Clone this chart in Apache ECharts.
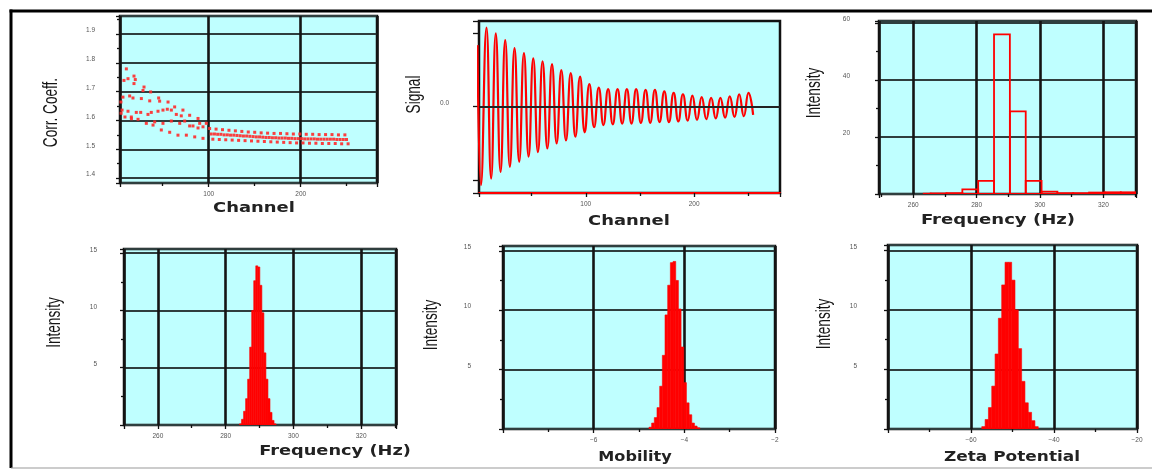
<!DOCTYPE html>
<html><head><meta charset="utf-8">
<script src="https://cdn.jsdelivr.net/npm/echarts@6/dist/echarts.min.js"></script>
<style>html,body{margin:0;padding:0;background:#fff}#c{width:1152px;height:470px}</style>
</head><body><div id="c"></div>
<script>
// ---------------- data ----------------
// Panel 1: correlation coefficient vs channel (dots)
const corrChannel = [10.5,7.9,12.3,18.8,20.2,18.8,28.6,36.9,29.7,6.8,14.1,17.7,26.8,35.9,45.6,46.7,55.8,63.0,72.0,79.3,88.4,97.4,
  5.8,12.3,15.9,21.3,26.1,34.0,37.6,44.9,50.3,55.0,59.4,64.8,70.2,73.9,82.9,90.2,93.8,
  23.2,32.2,39.5,48.5,57.6,66.6,75.7,84.8,93.8,41.3,50.3,59.4,68.5,79.3,88.4,4.6,9.0,16.0,4.8,
  101,102.75,104.5,106.25,108,109.75,111.5,113.25,115,116.75,118.5,120.25,122,123.75,125.5,127.25,
  129,130.75,132.5,134.25,136,137.75,139.5,141.25,143,144.75,146.5,148.25,150,151.75,153.5,155.25,
  157,158.75,160.5,162.25,164,165.75,167.5,169.25,171,172.75,174.5,176.25,178,179.75,181.5,183.25,
  185,186.75,188.5,190.25,192,193.75,195.5,197.25,199,200.75,202.5,204.25,206,207.75,209.5,211.25,
  213,214.75,216.5,218.25,220,221.75,223.5,225.25,227,228.75,230.5,232.25,234,235.75,237.5,239.25,
  241,242.75,244.5,246.25,248,249.75,251.5];
const corrValue = [1.779,1.739,1.745,1.754,1.742,1.728,1.704,1.699,1.716,1.681,1.685,1.678,1.676,1.668,1.678,1.667,1.664,1.647,1.636,1.618,1.607,1.590,
  1.636,1.632,1.612,1.628,1.628,1.621,1.628,1.632,1.636,1.639,1.636,1.621,1.616,1.598,1.581,1.590,1.578,
  1.604,1.590,1.584,1.567,1.559,1.549,1.549,1.543,1.538,1.595,1.590,1.598,1.590,1.581,1.574,1.664,1.612,1.606,1.625,
  1.572,1.553,1.535,1.553,1.570,1.552,1.534,1.552,1.568,1.550,1.533,1.550,1.566,1.549,1.532,1.549,
  1.564,1.548,1.531,1.547,1.562,1.546,1.530,1.546,1.560,1.545,1.529,1.544,1.559,1.543,1.528,1.543,
  1.557,1.542,1.527,1.541,1.556,1.541,1.526,1.540,1.555,1.540,1.525,1.539,1.555,1.539,1.524,1.539,
  1.554,1.538,1.523,1.538,1.553,1.537,1.522,1.537,1.553,1.537,1.522,1.536,1.552,1.536,1.521,1.536,
  1.552,1.536,1.521,1.535,1.551,1.535,1.520,1.535,1.551,1.535,1.520,1.535,1.551,1.535,1.520,1.534,
  1.550,1.534,1.519,1.534,1.550,1.534,1.519];

// Panel 2: signal vs channel (peaks and troughs of the trace)
const signalChannel = [0,3.2,8.3,12.6,16.9,21.3,25.6,29.9,34.2,38.5,42.9,47.2,51.5,55.8,60.1,64.5,68.8,73.1,77.4,81.7,86.1,90.4,94.7,
  99.0,103.3,107.7,112.0,116.3,120.6,124.9,129.3,133.6,137.9,142.2,146.5,150.9,155.2,159.5,163.8,168.1,172.5,176.8,181.1,185.4,
  189.7,194.1,198.4,202.7,207.0,211.3,215.7,220.0,224.3,228.6,232.9,237.3,241.6,245.9,250.2,254.5];
const signalValue = [0.84,-1.07,1.08,-0.98,1.00,-0.89,0.91,-0.82,0.80,-0.75,0.73,-0.68,0.66,-0.62,0.62,-0.57,0.58,-0.50,0.50,-0.46,0.46,-0.41,0.41,
  -0.35,0.31,-0.28,0.26,-0.25,0.24,-0.24,0.24,-0.23,0.24,-0.23,0.24,-0.22,0.23,-0.22,0.23,-0.21,0.21,-0.21,0.19,-0.20,
  0.17,-0.19,0.15,-0.18,0.13,-0.17,0.12,-0.16,0.12,-0.15,0.14,-0.14,0.17,-0.13,0.19,-0.11];

// Panel 3: coarse frequency histogram (bin edges, intensity)
const coarseFreqEdges = [263.3,265.5,270.5,275.5,280.5,285.5,290.5,295.5,300.5,305.5,310.5,315.5,320.5,325.5,330.3];
const coarseFreqIntensity = [0.1,0.2,0.3,1.6,4.6,56,29,4.6,0.8,0.3,0.3,0.5,0.6,0.6];

// Panel 4: frequency distribution
const freqEdges = [284.1,284.7,285.3,285.9,286.5,287.1,287.7,288.3,288.9,289.5,290.1,290.7,291.3,291.9,292.5,293.1,293.7,294.3,294.9];
const freqIntensity = [0.1,0.5,1.2,2.3,4.0,6.8,10.0,12.6,13.9,13.8,12.2,9.8,6.3,4.0,2.3,1.1,0.4,0.1];

// Panel 5: mobility distribution
const mobilityEdges = [-4.78,-4.721,-4.662,-4.603,-4.544,-4.485,-4.426,-4.367,-4.308,-4.249,-4.19,-4.131,-4.072,-4.013,-3.954,-3.895,-3.836,-3.777,-3.718,-3.659];
const mobilityIntensity = [0.15,0.5,0.96,1.8,3.6,6.2,9.6,12.1,14.0,14.1,12.5,10.1,6.9,3.9,2.2,1.2,0.5,0.25,0.1];

// Panel 6: zeta potential distribution
const zetaEdges = [-57.4,-56.6,-55.8,-55.0,-54.2,-53.4,-52.6,-51.8,-51.0,-50.2,-49.4,-48.6,-47.8,-47.0,-46.2,-45.4,-44.6,-43.8];
const zetaIntensity = [0.2,0.8,1.8,3.6,6.3,9.3,12.1,14.0,14.0,12.5,10.0,6.75,4.0,2.2,1.4,0.7,0.2];

// Tick labels
const channelTicks = [100,200], channelLabels = ['100','200'];
const corrTicks = [1.4,1.5,1.6,1.7,1.8,1.9], corrLabels = ['1.4','1.5','1.6','1.7','1.8','1.9'];
const signalTicks = [0], signalLabels = ['0.0'];
const freqTicks = [260,280,300,320], freqLabels = ['260','280','300','320'];
const int60Ticks = [20,40,60], int60Labels = ['20','40','60'];
const int15Ticks = [5,10,15], int15Labels = ['5','10','15'];
const mobilityTicks = [-6,-4,-2], mobilityLabels = ['\u22126','\u22124','\u22122'];
const zetaTicks = [-60,-40,-20], zetaLabels = ['\u221260','\u221240','\u221220'];

// ---------------- layout & styling ----------------
const CYAN = '#bfffff', RED = '#ff0000';
const panels = [
  {grid:{left:120,top:16,width:257,height:167},
   x:{min:3.6,max:282.9,step:100,ticks:channelTicks,labels:channelLabels,split:true},
   y:{min:1.383,max:1.9625,step:0.1,ticks:corrTicks,labels:corrLabels,split:true,margin:25,minor:true}},
  {grid:{left:479,top:21,width:301,height:172},
   x:{min:1.4,max:279.3,step:100,ticks:channelTicks,labels:channelLabels,split:false,line:RED},
   y:{min:-1.177,max:1.169,step:1,ticks:signalTicks,labels:signalLabels,split:false,margin:30,minor:false,tickLen:6}},
  {grid:{left:879,top:21,width:257,height:173},
   x:{min:249.2,max:330.3,step:20,ticks:freqTicks,labels:freqLabels,split:true},
   y:{min:0,max:60.7,step:20,ticks:int60Ticks,labels:int60Labels,split:true,margin:29,minor:true}},
  {grid:{left:124,top:249,width:272,height:176},
   x:{min:250,max:330.3,step:20,ticks:freqTicks,labels:freqLabels,split:true},
   y:{min:0,max:15.37,step:5,ticks:int15Ticks,labels:int15Labels,split:true,margin:27,minor:true}},
  {grid:{left:503,top:246,width:272,height:183},
   x:{min:-8,max:-2,step:2,ticks:mobilityTicks,labels:mobilityLabels,split:true},
   y:{min:0,max:15.4,step:5,ticks:int15Ticks,labels:int15Labels,split:true,margin:32,minor:true}},
  {grid:{left:888,top:245,width:249,height:184},
   x:{min:-80,max:-20,step:20,ticks:zetaTicks,labels:zetaLabels,split:true},
   y:{min:0,max:15.45,step:5,ticks:int15Ticks,labels:int15Labels,split:true,margin:31,minor:true}}
];

function fmt(ticks, labels, tol) {
  return function (v) {
    for (let i = 0; i < ticks.length; i++) if (Math.abs(v - ticks[i]) < tol) return labels[i];
    return '';
  };
}
function axis(gi, o, isX) {
  return {
    type:'value', gridIndex:gi, min:o.min, max:o.max, minInterval:o.step, maxInterval:o.step,
    position: isX ? 'bottom' : 'left', scale:true,
    axisLine:{show:!!o.line, onZero:false, lineStyle:{color:o.line || '#111', width:2}},
    axisTick:{show:true, inside:false, length:o.tickLen || 4, lineStyle:{color:'#111', width:1.3}},
    minorTick:{show: isX ? true : !!o.minor, splitNumber:2, length:3, lineStyle:{color:'#111', width:1.3}},
    minorSplitLine:{show:false},
    splitLine:{show:o.split, lineStyle: isX ? {color:'#141414', width:2.6} : {color:'#2f3e3e', width:2}},
    axisLabel:{show:true, margin: isX ? 8 : o.margin, fontSize:6.5, color:'#555', fontFamily:'Liberation Sans',
      verticalAlign: isX ? 'top' : 'bottom', hideOverlap:false,
      formatter: fmt(o.ticks, o.labels, o.step * 1e-3)}
  };
}

const grids = panels.map(p => Object.assign({show:true, backgroundColor:CYAN, borderColor:'#111', borderWidth:2.5, containLabel:false}, p.grid));
const xAxes = panels.map((p, i) => axis(i, p.x, true));
const yAxes = panels.map((p, i) => axis(i, p.y, false));

function histData(edges, vals) {
  return vals.map((v, i) => [edges[i], edges[i + 1], v]);
}
function histRender(filled) {
  return function (params, api) {
    const a = api.coord([api.value(0), 0]);
    const b = api.coord([api.value(1), api.value(2)]);
    return {type:'rect',
      shape:{x:a[0], y:b[1], width:b[0] - a[0], height:a[1] - b[1]},
      style: filled ? {fill:RED, stroke:RED, lineWidth:0.6} : {fill:'none', stroke:RED, lineWidth:1.8}};
  };
}

const series = [
  {type:'scatter', xAxisIndex:0, yAxisIndex:0, symbol:'rect', symbolSize:3,
   itemStyle:{color:'#ff2a2a', opacity:0.9},
   data: corrChannel.map((c, i) => [c, corrValue[i]])},
  {type:'line', xAxisIndex:1, yAxisIndex:1, showSymbol:false, smooth:0.5,
   lineStyle:{color:RED, width:2.2},
   data: signalChannel.map((c, i) => [c, signalValue[i]]),
   markLine:{silent:true, symbol:'none', label:{show:false}, animation:false,
     lineStyle:{color:'#222', width:2, type:'solid'}, data:[{yAxis:0}]}},
  {type:'custom', xAxisIndex:2, yAxisIndex:2, clip:true, renderItem:histRender(false), data:histData(coarseFreqEdges, coarseFreqIntensity)},
  {type:'custom', xAxisIndex:3, yAxisIndex:3, clip:true, renderItem:histRender(true), data:histData(freqEdges, freqIntensity)},
  {type:'custom', xAxisIndex:4, yAxisIndex:4, clip:true, renderItem:histRender(true), data:histData(mobilityEdges, mobilityIntensity)},
  {type:'custom', xAxisIndex:5, yAxisIndex:5, clip:true, renderItem:histRender(true), data:histData(zetaEdges, zetaIntensity)}
];

// axis titles & outer frame
function xTitle(text, x, y, sx) {
  return {type:'text', x:x, y:y, scaleX:sx, z:100,
    style:{text:text, fill:'#222', fontSize:14, fontWeight:'bold', fontFamily:'DejaVu Sans',
      align:'center', verticalAlign:'middle', textAlign:'center', textVerticalAlign:'middle'}};
}
function yTitle(text, x, y) {
  return {type:'text', x:x, y:y, rotation:Math.PI / 2, scaleX:0.68, z:100,
    style:{text:text, fill:'#151515', fontSize:20, fontFamily:'Liberation Sans',
      align:'center', verticalAlign:'middle', textAlign:'center', textVerticalAlign:'middle'}};
}
const graphic = [
  {type:'line', z:100, shape:{x1:9.5, y1:11, x2:1152, y2:11}, style:{stroke:'#000', lineWidth:3}},
  {type:'line', z:100, shape:{x1:11, y1:9.5, x2:11, y2:468}, style:{stroke:'#000', lineWidth:3}},
  {type:'line', z:100, shape:{x1:11, y1:468, x2:1152, y2:468}, style:{stroke:'#9a9a9a', lineWidth:1.2}},
  xTitle('Channel', 254, 208, 1.28),
  xTitle('Channel', 629, 221, 1.28),
  xTitle('Frequency (Hz)', 998, 220, 1.29),
  xTitle('Frequency (Hz)', 335, 451, 1.27),
  xTitle('Mobility', 635, 457, 1.15),
  xTitle('Zeta Potential', 1012, 457, 1.21),
  yTitle('Corr. Coeff.', 51.5, 112.5),
  yTitle('Signal', 414, 94.5),
  yTitle('Intensity', 814, 93),
  yTitle('Intensity', 54, 322.5),
  yTitle('Intensity', 431, 325),
  yTitle('Intensity', 824, 324)
];

const chart = echarts.init(document.getElementById('c'), null, {renderer:'canvas', width:1152, height:470});
chart.setOption({
  animation:false, backgroundColor:'#ffffff',
  grid:grids, xAxis:xAxes, yAxis:yAxes, series:series, graphic:graphic
});
</script>
</body></html>
